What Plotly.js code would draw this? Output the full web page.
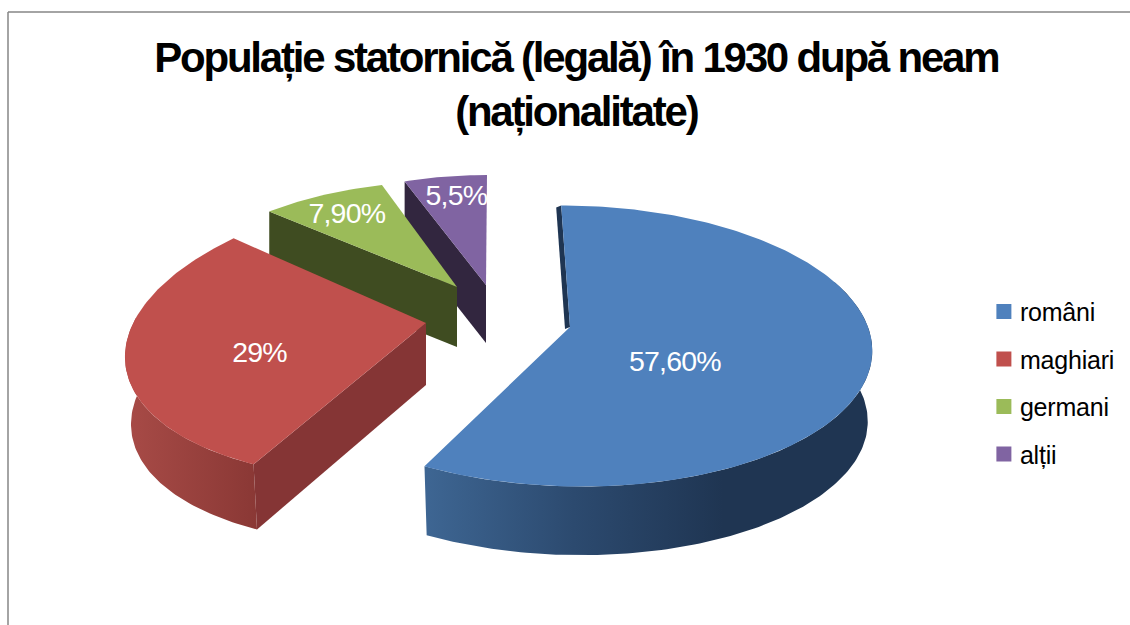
<!DOCTYPE html>
<html><head><meta charset="utf-8">
<script src="https://cdn.plot.ly/plotly-3.0.1.min.js"></script>
<style>
html,body{margin:0;padding:0;background:#fff;overflow:hidden}
#chart{width:1130px;height:625px}
.gtitle{letter-spacing:-2.2px}
.legendtext{letter-spacing:-0.2px;transform:translateX(-4px)}
.textpoint text{letter-spacing:-0.8px}
</style></head><body><div id="chart"></div>
<script>
// Data
const categories = ["români","maghiari","germani","alții"];
const shares = [57.6, 29, 7.9, 5.5];
const valueLabels = ["57,60%","29%","7,90%","5,5%"];
const topColors = ["#4F81BD","#C0504D","#9BBB59","#8064A2"];
const cutColors = ["#1F3552","#853535","#3F4C21","#32263F"];
const rimGrad = [["#3E6693","#2C4A6F","#1F3552","#1F3552"],["#A84B47","#8A3835"],null,null];
// Projection settings for each exploded slice (tilt, shear, perspective)
const apexX = [570,426,457,486], apexY = [327,323,287,285];
const offX = [0,5,0,0], offY = [0,10,0,0];
const radX = [298,303,266,243], radY = [138,146,106,110];
const shearX = [-10,43,16,1], shearY = [0,-3.5,6.5,0];
const persp = [0.135,0,0,0];
const depth = [71,68,60,58], bottomScale = [0.985,0.98,1,1];
const cutShiftX = [-5,0,0,0], cutShiftY = [2,62,60,58];
const labelR = [0.42,0.56,0.79,0.8], labelAngle = [128,253,325,351];

function project(i,deg,r){
  const t=deg*Math.PI/180,u=Math.sin(t)*r,v=Math.cos(t)*r,w=1+persp[i]*v;
  return [apexX[i]+offX[i]*r+(radX[i]*u+shearX[i]*v)/w, apexY[i]+offY[i]*r+(-radY[i]*v+shearY[i]*u)/w];
}
function rim(i,a0,a1){const n=Math.max(2,Math.round(Math.abs(a1-a0))),p=[];
  for(let k=0;k<=n;k++)p.push(project(i,a0+(a1-a0)*k/n,1));return p;}
function poly(pts,color,grad){
  const tr={type:'scatter',mode:'lines',x:pts.map(p=>p[0]).concat(pts[0][0]),y:pts.map(p=>p[1]).concat(pts[0][1]),
    fill:'toself',fillcolor:color,line:{width:0,color:color},hoverinfo:'skip',showlegend:false};
  if(grad)tr.fillgradient={type:'horizontal',colorscale:grad.map((c,j)=>[j/(grad.length-1),c])};
  return tr;
}
const total=shares.reduce((a,b)=>a+b,0);
let start=[],acc=0;shares.forEach(s=>{start.push(acc);acc+=s/total*360;});
const traces=[];
[3,2,1,0].forEach(i=>{
  const a0=start[i],a1=a0+shares[i]/total*360;
  const ap=[apexX[i],apexY[i]],p0=project(i,a0,1);
  const lower=p=>[ap[0]+(p[0]-ap[0])*bottomScale[i],ap[1]+(p[1]-ap[1])*bottomScale[i]+depth[i]];
  // cut face at the starting edge
  const cutEnd=i===1?lower(p0):[p0[0]+cutShiftX[i],p0[1]+cutShiftY[i]];
  traces.push(poly([ap,p0,cutEnd,[ap[0]+cutShiftX[i],ap[1]+cutShiftY[i]]],cutColors[i]));
  // curved outer wall
  if(rimGrad[i]){
    const from=i===0?70:a0, to=i===0?a1:a0+70;
    const top=rim(i,from,to);
    const bot=top.slice().reverse().map(lower);
    traces.push(poly(top.concat(bot),cutColors[i],rimGrad[i]));
  }
  // top face
  traces.push(poly([ap].concat(rim(i,a0,a1)),topColors[i]));
});
// value labels
const lp=shares.map((s,i)=>project(i,labelAngle[i],labelR[i]));
traces.push({type:'scatter',mode:'text',x:lp.map(p=>p[0]),y:lp.map(p=>p[1]),text:valueLabels,
  textposition:'middle center',textfont:{family:'"Liberation Sans",Arial,sans-serif',size:28.5,color:'#fff'},
  hoverinfo:'skip',showlegend:false});
// legend entries
categories.forEach((c,i)=>traces.push({type:'scatter',mode:'markers',x:[null],y:[null],name:c,legendgroup:c,
  marker:{symbol:'square',size:15,color:topColors[i]},hoverinfo:'skip'}));

const layout={
  width:1130,height:625,margin:{l:0,r:0,t:0,b:0},paper_bgcolor:'#fff',plot_bgcolor:'#fff',
  xaxis:{range:[0,1130],visible:false,fixedrange:true},
  yaxis:{range:[625,0],visible:false,fixedrange:true},
  title:{text:"Populație statornică (legală) în 1930 după neam<br>(naționalitate)",
    font:{family:'"Liberation Sans",Arial,sans-serif',size:42,color:'#000',weight:700},
    x:0.51,xanchor:'center',xref:'paper',y:0.885,yanchor:'top',yref:'paper'},
  legend:{x:0.8707,y:0.538,xanchor:'left',yanchor:'top',tracegroupgap:12,traceorder:'grouped',
    font:{family:'"Liberation Sans",Arial,sans-serif',size:25,color:'#000'},bgcolor:'rgba(0,0,0,0)'},
  shapes:[
    {type:'line',xref:'paper',yref:'paper',x0:8/1130,x1:8/1130,y0:0,y1:1-12/625,line:{color:'#868686',width:1.5}},
    {type:'line',xref:'paper',yref:'paper',x0:8/1130,x1:1,y0:1-12/625,y1:1-12/625,line:{color:'#868686',width:1.5}}
  ]
};
Plotly.newPlot('chart',traces,layout,{displayModeBar:false,staticPlot:true});
</script></body></html>
